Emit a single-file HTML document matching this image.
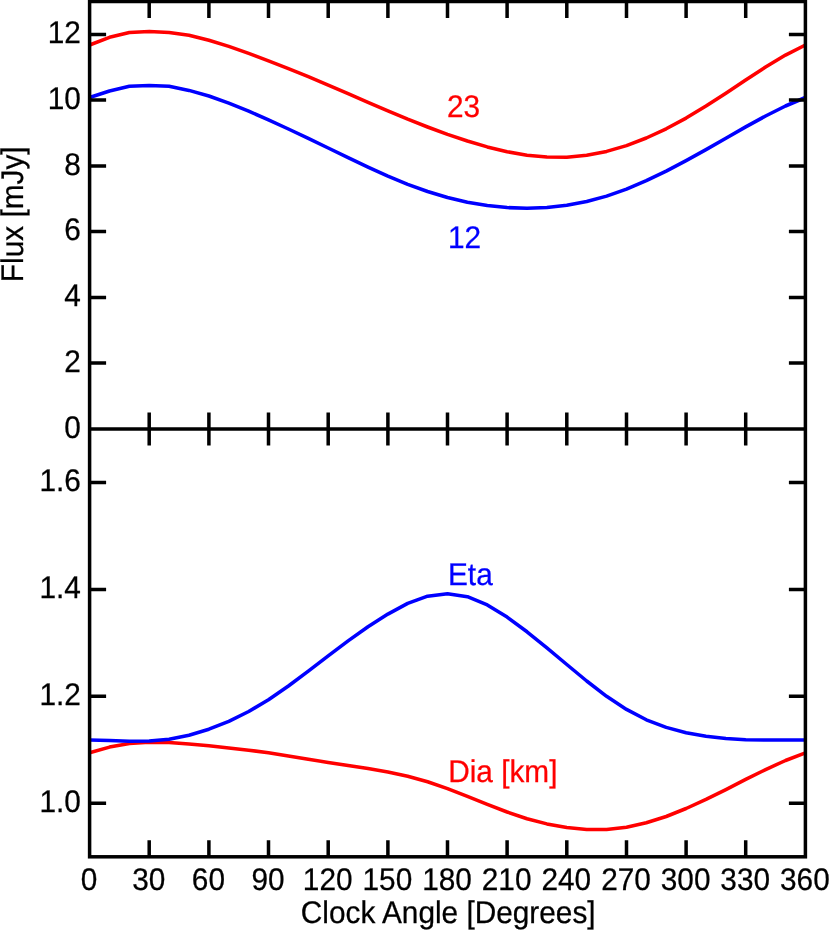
<!DOCTYPE html>
<html><head><meta charset="utf-8"><title>Chart</title>
<style>html,body{margin:0;padding:0;background:#fff;overflow:hidden}svg{display:block;will-change:transform}text{text-rendering:geometricPrecision;font-family:"Liberation Sans",sans-serif;font-size:29.8px}</style></head>
<body>
<svg width="830" height="930" viewBox="0 0 830 930">
<rect width="830" height="930" fill="#fff"/>
<g fill="none" stroke-width="3.55" stroke-linejoin="round" stroke-linecap="butt">
<polyline stroke="#ff0000" points="89.6,45.0 109.5,37.3 129.4,32.6 149.2,31.4 169.1,32.6 189.0,35.2 208.9,40.3 228.8,46.4 248.7,53.4 268.5,60.8 288.4,68.6 308.3,76.7 328.2,85.1 348.1,93.7 368.0,102.4 387.9,110.9 407.7,119.2 427.6,127.0 447.5,134.4 467.4,141.0 487.3,146.9 507.1,151.7 527.0,155.2 546.9,157.1 566.8,157.2 586.7,155.3 606.6,151.4 626.5,145.6 646.3,138.0 666.2,128.8 686.1,118.1 706.0,106.1 725.9,93.3 745.7,80.1 765.6,67.1 785.5,55.1 805.4,45.0"/>
<polyline stroke="#0000ff" points="89.6,97.5 109.5,91.0 129.4,86.3 149.2,85.5 169.1,86.3 189.0,90.4 208.9,96.0 228.8,103.1 248.7,111.1 268.5,119.9 288.4,129.0 308.3,138.4 328.2,148.0 348.1,157.6 368.0,167.1 387.9,176.1 407.7,184.3 427.6,191.5 447.5,197.5 467.4,202.2 487.3,205.5 507.1,207.6 527.0,208.3 546.9,207.5 566.8,205.3 586.7,201.5 606.6,196.1 626.5,189.1 646.3,180.7 666.2,171.1 686.1,160.6 706.0,149.6 725.9,138.2 745.7,126.9 765.6,116.0 785.5,106.0 805.4,97.5"/>
<polyline stroke="#ff0000" points="89.6,752.8 109.5,747.1 129.4,743.6 149.2,742.3 169.1,742.6 189.0,744.0 208.9,745.8 228.8,747.9 248.7,750.2 268.5,752.8 288.4,755.9 308.3,759.2 328.2,762.4 348.1,765.6 368.0,768.6 387.9,772.0 407.7,776.3 427.6,781.8 447.5,788.6 467.4,796.4 487.3,804.4 507.1,812.0 527.0,818.7 546.9,823.9 566.8,827.6 586.7,829.5 606.6,829.5 626.5,827.2 646.3,822.8 666.2,816.5 686.1,808.5 706.0,799.4 725.9,789.6 745.7,779.4 765.6,769.6 785.5,760.5 805.4,752.8"/>
<polyline stroke="#0000ff" points="89.6,740.0 109.5,740.6 129.4,741.3 149.2,741.1 169.1,739.2 189.0,735.2 208.9,729.2 228.8,721.3 248.7,711.5 268.5,699.7 288.4,686.0 308.3,671.1 328.2,655.8 348.1,640.9 368.0,626.8 387.9,614.1 407.7,603.4 427.6,596.2 447.5,593.7 467.4,596.7 487.3,604.9 507.1,617.1 527.0,631.8 546.9,647.9 566.8,664.5 586.7,681.0 606.6,696.3 626.5,709.4 646.3,719.8 666.2,727.4 686.1,732.7 706.0,736.3 725.9,738.6 745.7,739.8 765.6,740.0 785.5,739.9 805.4,740.0"/>
</g>
<g stroke="#000" stroke-width="3.5" fill="none" stroke-linecap="butt">
<rect x="89.6" y="1.5" width="715.8" height="855.3"/>
<line x1="89.6" y1="428.9" x2="805.4" y2="428.9"/>
<path d="M149.2 1.5v16.5M149.2 412.4v33.0M149.2 856.8v-16.5M208.9 1.5v16.5M208.9 412.4v33.0M208.9 856.8v-16.5M268.5 1.5v16.5M268.5 412.4v33.0M268.5 856.8v-16.5M328.2 1.5v16.5M328.2 412.4v33.0M328.2 856.8v-16.5M387.9 1.5v16.5M387.9 412.4v33.0M387.9 856.8v-16.5M447.5 1.5v16.5M447.5 412.4v33.0M447.5 856.8v-16.5M507.1 1.5v16.5M507.1 412.4v33.0M507.1 856.8v-16.5M566.8 1.5v16.5M566.8 412.4v33.0M566.8 856.8v-16.5M626.5 1.5v16.5M626.5 412.4v33.0M626.5 856.8v-16.5M686.1 1.5v16.5M686.1 412.4v33.0M686.1 856.8v-16.5M745.7 1.5v16.5M745.7 412.4v33.0M745.7 856.8v-16.5M89.6 363.1h16.5M805.4 363.1h-16.5M89.6 297.4h16.5M805.4 297.4h-16.5M89.6 231.6h16.5M805.4 231.6h-16.5M89.6 165.9h16.5M805.4 165.9h-16.5M89.6 100.1h16.5M805.4 100.1h-16.5M89.6 34.4h16.5M805.4 34.4h-16.5M89.6 803.3h16.5M805.4 803.3h-16.5M89.6 696.3h16.5M805.4 696.3h-16.5M89.6 589.4h16.5M805.4 589.4h-16.5M89.6 482.4h16.5M805.4 482.4h-16.5"/>
</g>
<g fill="#000" stroke="#000" stroke-width="0.25">
<text transform="translate(80.8,437.6) scale(1,1.050)" text-anchor="end">0</text>
<text transform="translate(80.8,371.8) scale(1,1.050)" text-anchor="end">2</text>
<text transform="translate(80.8,306.1) scale(1,1.050)" text-anchor="end">4</text>
<text transform="translate(80.8,240.3) scale(1,1.050)" text-anchor="end">6</text>
<text transform="translate(80.8,174.6) scale(1,1.050)" text-anchor="end">8</text>
<text transform="translate(80.8,108.8) scale(1,1.050)" text-anchor="end">10</text>
<text transform="translate(80.8,43.1) scale(1,1.050)" text-anchor="end">12</text>
<text transform="translate(80.8,812.0) scale(1,1.050)" text-anchor="end">1.0</text>
<text transform="translate(80.8,705.0) scale(1,1.050)" text-anchor="end">1.2</text>
<text transform="translate(80.8,598.1) scale(1,1.050)" text-anchor="end">1.4</text>
<text transform="translate(80.8,491.1) scale(1,1.050)" text-anchor="end">1.6</text>
<text transform="translate(89.1,890.0) scale(1,1.050)" text-anchor="middle">0</text>
<text transform="translate(148.8,890.0) scale(1,1.050)" text-anchor="middle">30</text>
<text transform="translate(208.4,890.0) scale(1,1.050)" text-anchor="middle">60</text>
<text transform="translate(268.0,890.0) scale(1,1.050)" text-anchor="middle">90</text>
<text transform="translate(327.7,890.0) scale(1,1.050)" text-anchor="middle">120</text>
<text transform="translate(387.4,890.0) scale(1,1.050)" text-anchor="middle">150</text>
<text transform="translate(447.0,890.0) scale(1,1.050)" text-anchor="middle">180</text>
<text transform="translate(506.6,890.0) scale(1,1.050)" text-anchor="middle">210</text>
<text transform="translate(566.3,890.0) scale(1,1.050)" text-anchor="middle">240</text>
<text transform="translate(626.0,890.0) scale(1,1.050)" text-anchor="middle">270</text>
<text transform="translate(685.6,890.0) scale(1,1.050)" text-anchor="middle">300</text>
<text transform="translate(745.2,890.0) scale(1,1.050)" text-anchor="middle">330</text>
<text transform="translate(804.9,890.0) scale(1,1.050)" text-anchor="middle">360</text>
<text transform="translate(448.2,923.1) scale(1,1.050)" text-anchor="middle">Clock Angle [Degrees]</text>
<text transform="translate(22.9,214.3) rotate(-90) scale(1,1.050)" text-anchor="middle">Flux [mJy]</text>
</g>
<text transform="translate(447.0,117.0) scale(1,1.050)" text-anchor="start" fill="#ff0000" stroke="#ff0000" stroke-width="0.25">23</text>
<text transform="translate(448.0,247.6) scale(1,1.050)" text-anchor="start" fill="#0000ff" stroke="#0000ff" stroke-width="0.25">12</text>
<text transform="translate(448.0,584.5) scale(1,1.050)" text-anchor="start" fill="#0000ff" stroke="#0000ff" stroke-width="0.25">Eta</text>
<text transform="translate(448.2,782.4) scale(1,1.050)" text-anchor="start" fill="#ff0000" stroke="#ff0000" stroke-width="0.25">Dia [km]</text>
</svg>
</body></html>
